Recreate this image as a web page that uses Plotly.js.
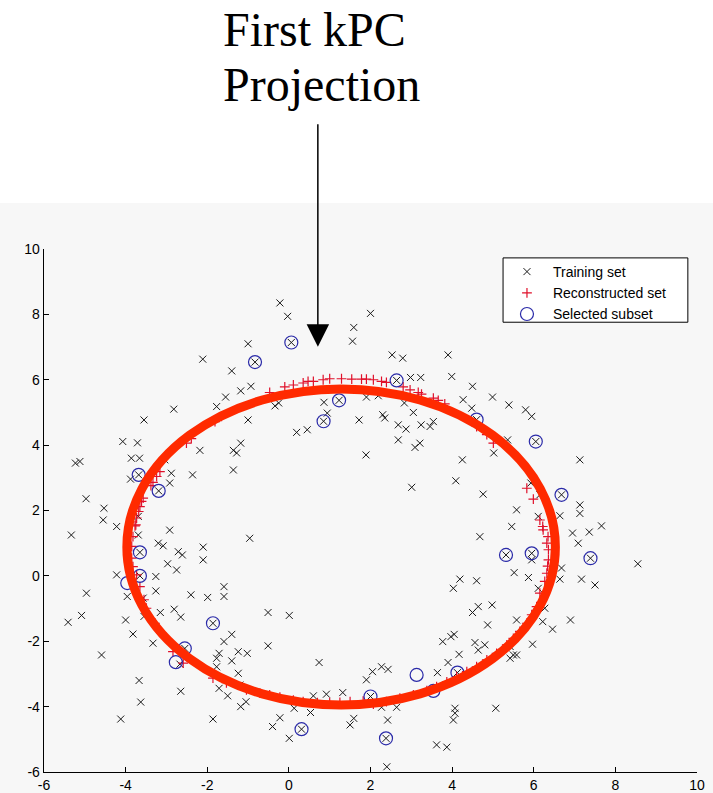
<!DOCTYPE html>
<html>
<head>
<meta charset="utf-8">
<script src="https://cdn.plot.ly/plotly-3.0.1.min.js"></script>
<style>html,body{margin:0;padding:0;background:#fff;}#chart{width:713px;height:793px;}</style>
</head>
<body>
<div id="chart"></div>
<script>
// Training set (black x)
var trainX = [-0.22,-0.03,-1.0,-0.83,0.06,1.59,1.56,2.0,-2.11,-1.40,-0.93,-1.18,-1.55,-1.77,-0.34,-0.25,-1.0,-2.82,-3.55,-4.07,-3.71,-5.23,-5.12,-4.97,-4.53,-4.55,-4.22,-3.86,-3.66,-3.68,-3.88,-3.19,-3.04,-2.88,-2.92,-2.36,-2.18,-1.36,-1.28,-1.18,-1.36,0.19,0.45,0.86,1.23,0.85,0.94,1.72,1.9,1.89,-3.69,-2.92,
  2.53,2.79,3.9,3.99,2.98,3.23,2.64,4.5,4.99,5.39,5.8,5.95,4.27,4.48,4.6,6.05,2.19,2.3,2.35,2.83,3.05,2.68,2.87,3.24,3.46,3.54,2.68,3.09,3.21,5.36,5.02,7.13,4.25,4.09,3.01,4.76,5.93,6.68,7.13,7.13,6.64,5.58,5.46,6.15,7.66,
  -5.33,-3.69,-0.96,-3.2,-3.08,-2.71,-2.61,-2.1,-2.1,-2.97,-2.75,-3.65,-3.65,-4.22,-4.96,-3.96,-3.57,-3.55,-3.26,-3.26,-2.4,-1.99,-1.59,-1.59,-5.08,-5.41,-4.0,-3.82,-2.81,-2.65,-3.15,-3.33,-4.59,-1.86,-2.55,-2.67,-1.4,-1.59,-1.71,-1.77,-1.77,-1.24,-1.02,-1.4,-0.51,-0.51,0.01,-1.24,-3.67,-3.63,-2.65,-1.71,-1.5,-1.2,-1.18,-1.05,-4.12,-1.86,0.74,1.9,0.6,0.92,1.32,0.13,0.53,-0.22,-0.4,0.01,0.31,1.5,1.59,
  6.11,7.36,6.95,7.09,4.68,5.32,5.95,5.95,7.39,8.55,6.68,6.64,7.17,7.5,5.52,5.87,4.19,4.03,4.6,6.11,6.27,4.64,4.5,4.98,4.87,5.58,6.22,6.46,6.9,5.97,4.05,3.97,3.77,4.56,4.8,4.64,4.17,5.42,5.5,5.42,5.58,3.9,3.64,4.13,2.05,2.27,2.43,2.0,2.27,2.64,2.42,2.38,2.4,4.07,4.07,4.03,3.62,3.87,5.07];
var trainY = [8.35,7.94,7.1,6.54,7.14,7.6,7.18,8.03,6.63,6.27,5.8,5.66,5.47,5.18,5.2,5.29,4.77,5.1,4.77,4.11,4.07,3.45,3.5,2.36,2.07,1.71,1.51,3.6,3.6,3.09,2.96,2.6,3.55,3.14,2.84,3.09,3.84,3.84,3.76,4.06,3.24,4.39,4.47,5.31,5.37,4.73,4.98,4.77,5.47,3.7,1.82,1.4,
  6.76,6.66,6.76,6.1,6.07,6.07,5.98,5.8,5.47,5.23,5.08,4.88,5.39,5.13,4.78,4.11,5.51,4.93,4.83,5.29,5.0,4.62,4.49,4.62,4.57,4.72,4.16,3.93,4.06,4.16,3.76,3.55,3.55,2.91,2.71,2.5,2.84,2.48,2.17,1.91,1.84,2.02,1.51,2.48,1.53,
  1.25,1.25,1.15,1.0,0.92,0.74,0.64,0.88,0.49,0.37,0.18,0.72,0.0,0.03,-0.53,-0.63,-0.68,-1.24,-0.02,-0.46,-0.58,-0.66,-0.33,-0.63,-1.21,-1.42,-1.35,-1.78,-1.02,-1.26,-1.12,-2.06,-2.42,-1.45,-2.22,-2.7,-1.79,-2.01,-2.37,-2.52,-2.78,-2.32,-2.37,-2.6,-1.12,-2.14,-1.21,-2.98,-3.2,-3.86,-3.53,-3.44,-3.67,-3.34,-4.0,-3.85,-4.38,-4.38,-2.65,-3.18,-3.67,-3.62,-3.57,-4.05,-4.18,-4.34,-4.61,-4.97,-4.69,-4.56,-4.36,
  1.82,1.34,1.31,1.0,1.2,0.64,0.69,0.49,0.54,0.37,0.24,-0.1,-0.1,-0.28,0.1,-0.05,-0.1,-0.38,-0.15,-0.38,-0.99,-0.94,-1.12,-0.89,-1.5,-1.35,-1.4,-1.63,-1.35,-2.09,-1.79,-1.86,-2.01,-2.04,-2.11,-2.27,-2.4,-2.16,-2.42,-2.52,-2.42,-2.65,-2.96,-2.96,-2.93,-2.78,-2.86,-3.69,-4.02,-4.02,-4.41,-4.97,-5.84,-4.05,-4.2,-4.41,-5.17,-5.24,-4.05];

// Reconstructed set (red +)
var reconX = [-3.77,-3.73,-3.68,-3.65,-3.61,-3.57,-3.38,-3.33,-3.24,-3.16,-2.51,-2.39,-1.81,-1.65,-0.47,-0.1,0.11,0.35,0.47,0.6,0.84,1.0,1.29,1.54,1.78,1.9,2.07,2.27,2.39,2.8,2.97,3.17,3.25,3.54,3.66,3.82,4.6,4.85,5.01,5.83,5.99,6.15,6.22,6.23,6.32,6.36,6.36,6.32,6.27,6.15,6.07,5.95,5.83,5.66,5.5,5.34,5.09,4.85,4.6,4.36,4.11,3.87,3.62,3.38,3.05,2.72,2.39,2.07,1.82,1.5,1.25,1.0,0.7,0.35,0.11,-0.22,-0.47,-0.71,-1.04,-1.53,-1.86,-2.59,-2.84,-3.12,-3.28,-3.49,-3.55,-3.65,-3.73,-3.82,-3.85,-3.85,-3.82,-3.75,6.35,6.34];
var reconY = [1.53,1.77,1.97,2.12,2.28,2.38,2.76,2.86,3.04,3.19,4.06,4.2,4.72,4.88,5.61,5.78,5.84,5.9,5.95,5.95,6.0,6.03,6.03,6.02,6.02,6.02,6.0,5.95,5.92,5.78,5.69,5.61,5.56,5.44,5.37,5.26,4.57,4.32,4.06,2.68,2.35,1.71,1.51,1.41,1.0,0.8,0.49,0.08,-0.17,-0.53,-0.94,-1.19,-1.45,-1.7,-1.91,-2.11,-2.37,-2.57,-2.78,-2.93,-3.08,-3.24,-3.39,-3.51,-3.64,-3.74,-3.85,-3.92,-3.83,-3.85,-3.87,-3.88,-3.88,-3.85,-3.8,-3.71,-3.64,-3.59,-3.49,-3.27,-3.13,-2.67,-2.32,-1.75,-1.45,-0.99,-0.73,-0.33,0.03,0.28,0.54,0.9,1.2,1.56,1.2,0.3];

// Selected subset (blue circles)
var selX = [-0.83,0.06,-3.68,-3.19,1.23,0.85,2.64,4.6,6.05,6.68,-3.65,-3.65,-3.96,-1.86,-2.55,-2.77,0.31,2.0,5.32,5.95,7.39,3.13,4.13,3.54,2.38];
var selY = [6.54,7.14,3.09,2.6,5.37,4.73,5.98,4.78,4.11,2.48,0.72,0.0,-0.22,-1.45,-2.22,-2.64,-4.69,-3.69,0.64,0.69,0.54,-3.03,-2.96,-3.52,-4.97];

// First kPC projection (hand-drawn ellipse) bounds
var ellipseX = [-3.97, 6.53];
var ellipseY = [-3.95, 5.72];

// Arrow tip
var arrowTip = [0.71, 7.01];

var tickVals = [-6,-4,-2,0,2,4,6,8,10];
var tickLabels = ['-6','-4','-2','0','2','4','6','8','10'];
var seriesNames = ['Training set','Reconstructed set','Selected subset'];
var titleLines = ['First kPC','Projection'];

var traces = [
  {x: trainX, y: trainY, type: 'scatter', mode: 'markers', name: seriesNames[0],
   marker: {symbol: 'x-thin-open', size: 7, color: '#1a1a1a', line: {width: 1, color: '#1a1a1a'}}},
  {x: reconX, y: reconY, type: 'scatter', mode: 'markers', name: seriesNames[1],
   marker: {symbol: 'cross-thin-open', size: 7, color: '#e0102a', line: {width: 1.2, color: '#e0102a'}}},
  {x: selX, y: selY, type: 'scatter', mode: 'markers', name: seriesNames[2],
   marker: {symbol: 'circle-open', size: 13, color: '#2a2aa8', line: {width: 1.2, color: '#2a2aa8'}}}
];

var axisCommon = {
  range: [-6, 10], tickmode: 'array', tickvals: tickVals, ticktext: tickLabels,
  showline: true, linecolor: '#000', linewidth: 1.3, ticks: 'inside', ticklen: 5, tickwidth: 1.2, tickcolor: '#000',
  showgrid: false, zeroline: false, mirror: false, fixedrange: true,
  tickfont: {family: 'Liberation Sans, Arial, sans-serif', size: 14, color: '#000'}
};

var layout = {
  width: 713, height: 793,
  margin: {l: 44, r: 16, t: 249, b: 21},
  paper_bgcolor: '#ffffff', plot_bgcolor: 'rgba(0,0,0,0)',
  xaxis: Object.assign({}, axisCommon),
  yaxis: Object.assign({}, axisCommon),
  showlegend: true,
  legend: {x: 0.6998, y: 0.9866, xanchor: 'left', yanchor: 'top', bgcolor: 'rgba(0,0,0,0)', borderwidth: 0, itemwidth: 42,
           font: {family: 'Liberation Sans, Arial, sans-serif', size: 14, color: '#000'}, tracegroupgap: 0},
  shapes: [
    {type: 'rect', xref: 'paper', yref: 'paper', x0: -0.1, x1: 1.1, y0: -0.1, y1: 1.088, fillcolor: '#f7f7f7', line: {width: 0}, layer: 'below'},
    {type: 'circle', xref: 'x', yref: 'y', x0: ellipseX[0], x1: ellipseX[1], y0: ellipseY[0], y1: ellipseY[1], line: {color: '#ff2a00', width: 9}, layer: 'above'},
    {type: 'rect', xref: 'paper', yref: 'paper', x0: 0.703, x1: 0.986, y0: 0.860, y1: 0.983, fillcolor: '#ffffff', line: {color: '#000', width: 1}, layer: 'above'}
  ],
  annotations: [
    {xref: 'x', yref: 'y', x: arrowTip[0], y: arrowTip[1], text: '', showarrow: true, ax: 0, ay: -224,
     arrowhead: 2, arrowsize: 3, arrowwidth: 1.5, arrowcolor: '#000'},
    {xref: 'paper', yref: 'paper', x: 0.415, y: 1.419, text: titleLines[0], showarrow: false, xanchor: 'center', yanchor: 'middle',
     font: {family: 'Liberation Serif, Times New Roman, serif', size: 48, color: '#000'}},
    {xref: 'paper', yref: 'paper', x: 0.425, y: 1.314, text: titleLines[1], showarrow: false, xanchor: 'center', yanchor: 'middle',
     font: {family: 'Liberation Serif, Times New Roman, serif', size: 48, color: '#000'}}
  ]
};

Plotly.newPlot('chart', traces, layout, {displayModeBar: false, staticPlot: true});
</script>
</body>
</html>
